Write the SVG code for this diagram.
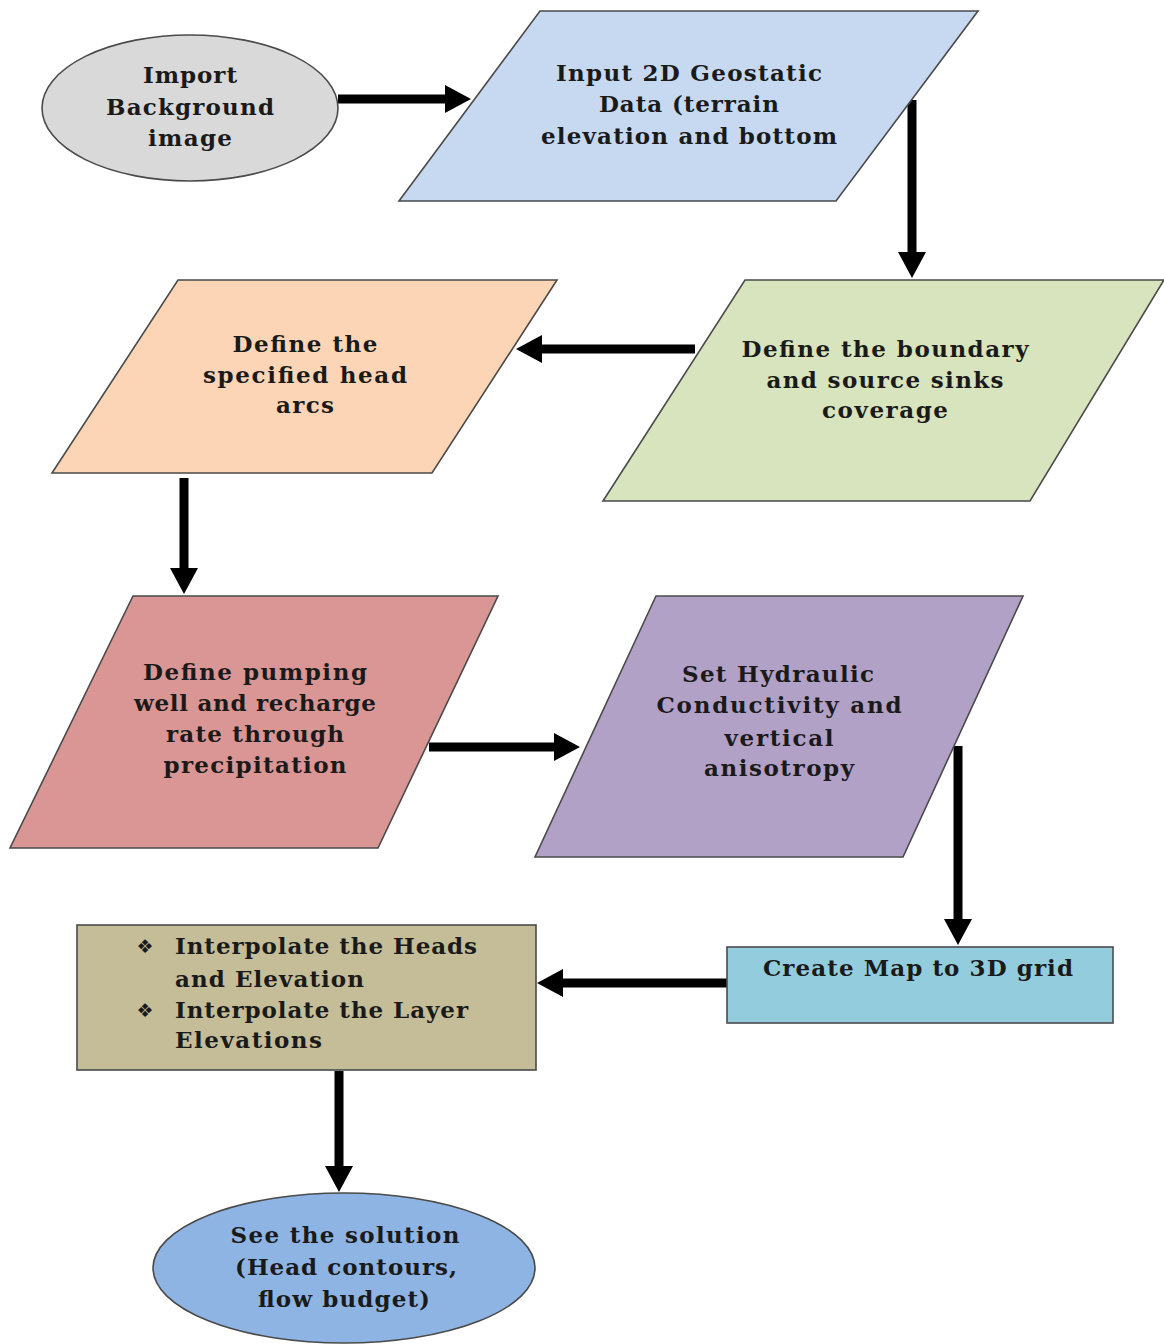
<svg xmlns="http://www.w3.org/2000/svg" width="1164" height="1344" viewBox="0 0 1164 1344">
<style>
.shape{stroke:#4a4a4a;stroke-width:1.6}
.t{font-family:"DejaVu Serif","Liberation Serif",serif;font-weight:bold;font-size:23px;fill:#1a1a1a;text-anchor:middle}
.tl{font-family:"DejaVu Serif","Liberation Serif",serif;font-weight:bold;font-size:23px;fill:#1a1a1a;text-anchor:start}
.b{font-family:"DejaVu Sans",sans-serif;font-size:19px;fill:#1a1a1a;text-anchor:middle}
.c{stroke:#000;stroke-width:9;fill:none;marker-end:url(#ah)}
</style>
<defs>
<marker id="ah" markerUnits="userSpaceOnUse" viewBox="0 0 26 28" markerWidth="26" markerHeight="28" refX="1" refY="14" orient="auto">
<path d="M0,0 L26,14 L0,28 Z" fill="#000"/>
</marker>
</defs>
<rect width="1164" height="1344" fill="#fff"/>

<g id="connectors">
<line class="c" x1="338" y1="99" x2="446" y2="99"/>
<line class="c" x1="912" y1="100" x2="912" y2="253"/>
<line class="c" x1="695" y1="349" x2="541" y2="349"/>
<line class="c" x1="184" y1="478" x2="184" y2="569"/>
<line class="c" x1="429" y1="747" x2="555" y2="747"/>
<line class="c" x1="958" y1="746" x2="958" y2="920"/>
<line class="c" x1="727" y1="983" x2="562" y2="983"/>
<line class="c" x1="339" y1="1071" x2="339" y2="1167"/>
</g>

<g id="n-import">
<ellipse class="shape" cx="190" cy="108" rx="148" ry="73" fill="#d9d9d9"/>
<text class="t" x="190" y="83" textLength="94" lengthAdjust="spacing">Import</text>
<text class="t" x="190" y="115" textLength="168" lengthAdjust="spacing">Background</text>
<text class="t" x="190" y="146" textLength="84" lengthAdjust="spacing">image</text>
</g>

<g id="n-input">
<polygon class="shape" points="540,11 978,11 836,201 399,201" fill="#c6d9f0"/>
<text class="t" x="689" y="81" textLength="266" lengthAdjust="spacing">Input 2D Geostatic</text>
<text class="t" x="689" y="112" textLength="180" lengthAdjust="spacing">Data (terrain</text>
<text class="t" x="689" y="144" textLength="296" lengthAdjust="spacing">elevation and bottom</text>
</g>

<g id="n-boundary">
<polygon class="shape" points="745,280 1164,280 1030,501 603,501" fill="#d7e4bd"/>
<text class="t" x="885" y="357" textLength="287" lengthAdjust="spacing">Define the boundary</text>
<text class="t" x="885" y="388" textLength="237" lengthAdjust="spacing">and source sinks</text>
<text class="t" x="885" y="418" textLength="126" lengthAdjust="spacing">coverage</text>
</g>

<g id="n-head">
<polygon class="shape" points="178,280 557,280 432,473 52,473" fill="#fbd5b5"/>
<text class="t" x="305" y="352" textLength="145" lengthAdjust="spacing">Define the</text>
<text class="t" x="305" y="383" textLength="204" lengthAdjust="spacing">specified head</text>
<text class="t" x="305" y="413" textLength="58" lengthAdjust="spacing">arcs</text>
</g>

<g id="n-pumping">
<polygon class="shape" points="133,596 498,596 378,848 10,848" fill="#d99694"/>
<text class="t" x="255" y="680" textLength="224" lengthAdjust="spacing">Define pumping</text>
<text class="t" x="255" y="711" textLength="242" lengthAdjust="spacing">well and recharge</text>
<text class="t" x="255" y="742" textLength="178" lengthAdjust="spacing">rate through</text>
<text class="t" x="255" y="773" textLength="183" lengthAdjust="spacing">precipitation</text>
</g>

<g id="n-hydraulic">
<polygon class="shape" points="656,596 1023,596 903,857 535,857" fill="#b2a1c7"/>
<text class="t" x="778" y="682" textLength="192" lengthAdjust="spacing">Set Hydraulic</text>
<text class="t" x="779" y="713" textLength="245" lengthAdjust="spacing">Conductivity and</text>
<text class="t" x="779" y="746" textLength="109" lengthAdjust="spacing">vertical</text>
<text class="t" x="779" y="776" textLength="150" lengthAdjust="spacing">anisotropy</text>
</g>

<g id="n-map">
<rect class="shape" x="727" y="947" width="386" height="76" fill="#93cddd"/>
<text class="t" x="918" y="976" textLength="310" lengthAdjust="spacing">Create Map to 3D grid</text>
</g>

<g id="n-interpolate">
<rect class="shape" x="77" y="925" width="459" height="145" fill="#c4bd97"/>
<text class="b" x="145" y="953">❖</text>
<text class="tl" x="175" y="954" textLength="302" lengthAdjust="spacing">Interpolate the Heads</text>
<text class="tl" x="175" y="987" textLength="189" lengthAdjust="spacing">and Elevation</text>
<text class="b" x="145" y="1017">❖</text>
<text class="tl" x="175" y="1018" textLength="293" lengthAdjust="spacing">Interpolate the Layer</text>
<text class="tl" x="175" y="1048" textLength="147" lengthAdjust="spacing">Elevations</text>
</g>

<g id="n-solution">
<ellipse class="shape" cx="344" cy="1268" rx="191" ry="75" fill="#8eb4e3"/>
<text class="t" x="345" y="1243" textLength="229" lengthAdjust="spacing">See the solution</text>
<text class="t" x="346" y="1275" textLength="222" lengthAdjust="spacing">(Head contours,</text>
<text class="t" x="344" y="1307" textLength="172" lengthAdjust="spacing">flow budget)</text>
</g>
</svg>
